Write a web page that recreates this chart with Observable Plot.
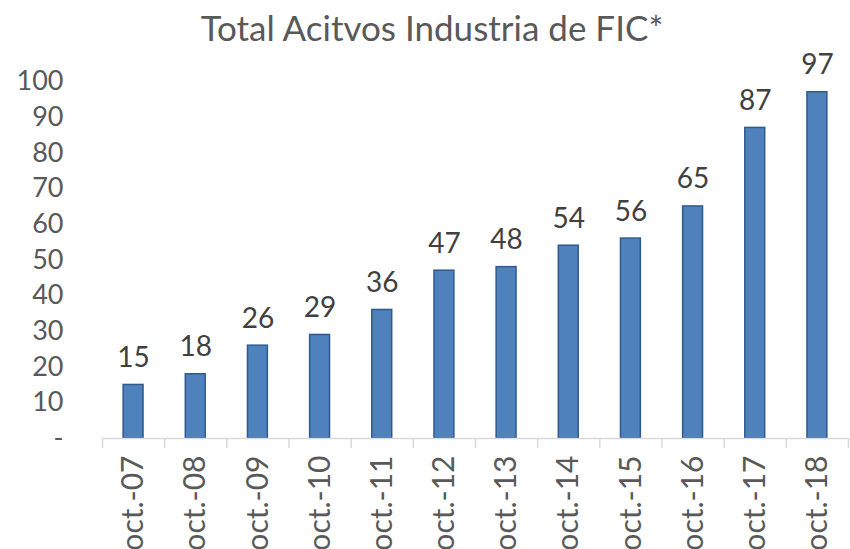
<!DOCTYPE html>
<html>
<head>
<meta charset="utf-8">
<script src="https://cdn.jsdelivr.net/npm/d3@7"></script>
<script src="https://cdn.jsdelivr.net/npm/@observablehq/plot@0.6"></script>
<style>
  html, body { margin: 0; padding: 0; background: #fff; overflow: hidden; }
  #title { height: 40px; width: 850px; font-family: Lato, sans-serif; font-size: 35px; color: #595959;
           text-align: center; line-height: 54px; padding-left: 14px; box-sizing: border-box; white-space: nowrap; }
</style>
</head>
<body>
<div id="title">Total Acitvos Industria de FIC*</div>
<div id="chart"></div>
<script>
const categories = ["oct.-07","oct.-08","oct.-09","oct.-10","oct.-11","oct.-12","oct.-13","oct.-14","oct.-15","oct.-16","oct.-17","oct.-18"];
const values = [15, 18, 26, 29, 36, 47, 48, 54, 56, 65, 87, 97];
const yTicks = [0, 10, 20, 30, 40, 50, 60, 70, 80, 90, 100];

const data = categories.map((c, i) => ({i, c, v: values[i]}));
const bounds = d3.range(categories.length + 1);
const centers = categories.map((c, i) => i + 0.5);

const chart = Plot.plot({
  width: 850,
  height: 509,
  marginTop: 41,
  marginBottom: 111,
  marginLeft: 102,
  marginRight: 2,
  style: {fontFamily: "Lato, sans-serif", background: "#fff", overflow: "visible"},
  x: {type: "linear", domain: [0, categories.length], axis: null},
  y: {domain: [0, 100], axis: null},
  marks: [
    Plot.axisY(yTicks, {tickSize: 0, tickPadding: 39, fontSize: 27, fill: "#595959",
      tickFormat: d => d === 0 ? "-" : String(d), label: null}),
    Plot.axisX(bounds, {tickSize: 10, tickFormat: () => "", stroke: "#d9d9d9", strokeWidth: 1.5, label: null}),
    Plot.axisX(centers, {tickSize: 0, tickPadding: 17, tickRotate: -90, fontSize: 30, fill: "#595959",
      tickFormat: d => categories[Math.floor(d)], label: null}),
    Plot.rectY(data, {x1: d => d.i + 0.34, x2: d => d.i + 0.66, y: "v", fill: "#4F81BD", stroke: "#2F5A8C", strokeWidth: 1.5}),
    Plot.ruleY([0], {stroke: "#d9d9d9", strokeWidth: 1.5}),
    Plot.text(data, {x: d => d.i + 0.5, y: "v", text: d => String(d.v), dy: -18, lineAnchor: "bottom",
      fontSize: 28, fill: "#404040"})
  ]
});
document.getElementById("chart").appendChild(chart);
</script>
</body>
</html>
